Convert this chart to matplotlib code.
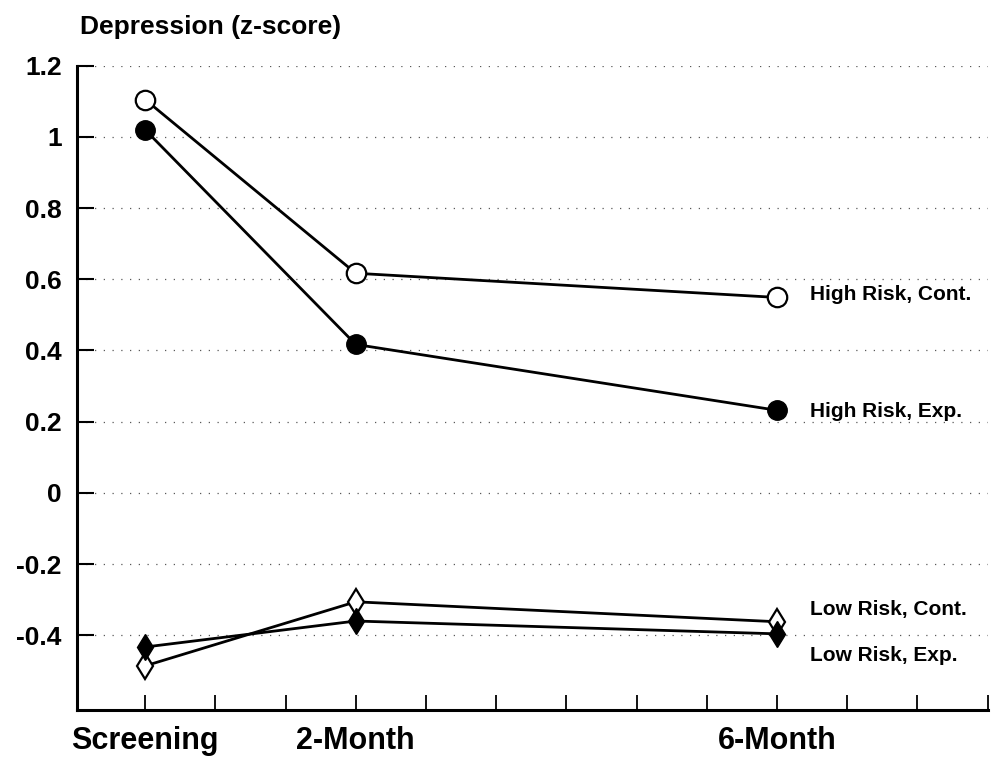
import numpy as np
import matplotlib
matplotlib.use("Agg")
import matplotlib.pyplot as plt

plt.rcParams['font.family'] = ['Liberation Sans', 'DejaVu Sans']

# time points (in axis tick units) and their labels
timePos = [0, 3, 9]
timeLabels = ['Screening', '2-Month', '6-Month']

# depression z-scores per group
hiCont = [1.105, 0.617, 0.549]
hiExp = [1.02, 0.417, 0.232]
loCont = [-0.486, -0.306, -0.362]
loExp = [-0.433, -0.360, -0.396]

groupNames = ['High Risk, Cont.', 'High Risk, Exp.', 'Low Risk, Cont.', 'Low Risk, Exp.']
labelY = [0.558, 0.228, -0.328, -0.458]

yTicks = [1.2, 1, 0.8, 0.6, 0.4, 0.2, 0, -0.2, -0.4]

#%% figure
fig = plt.figure(figsize=(9.94, 7.58), dpi=100)
ax = fig.add_axes([0.0775, 0.0633, 0.916, 0.850])

# dotted gridlines
for yv in yTicks:
    ax.axhline(yv, color='0.35', lw=0.9, ls=(0, (1, 6)), zorder=0)

lw = 2.0
ax.plot(timePos, hiCont, color='k', lw=lw, marker='o', ms=14, mfc='white', mec='k', mew=1.6, zorder=3)
ax.plot(timePos, hiExp, color='k', lw=lw, marker='o', ms=14, mfc='k', mec='k', zorder=3)
ax.plot(timePos, loCont, color='k', lw=lw, marker='d', ms=13, mfc='white', mec='k', mew=1.6, zorder=3)
ax.plot(timePos, loExp, color='k', lw=lw, marker='d', ms=13, mfc='k', mec='k', zorder=3)

for name, yv in zip(groupNames, labelY):
    ax.text(9.47, yv, name, fontsize=15, fontweight='bold', va='center', ha='left')

ax.set_xlim(-0.97, 12.0)
ax.set_ylim(-0.61, 1.2)

ax.set_yticks(yTicks)
ax.set_yticklabels(['%g' % v for v in yTicks], fontsize=19, fontweight='bold')
ax.tick_params(axis='y', direction='in', length=12, width=1.5, pad=11)

ax.set_xticks(range(0, 13))
ax.set_xticklabels([''] * 13)
ax.tick_params(axis='x', direction='in', length=11, width=1.3)

for sp in ['top', 'right']:
    ax.spines[sp].set_visible(False)
for sp in ['left', 'bottom']:
    ax.spines[sp].set_linewidth(2.2)

for pos, lab in zip(timePos, timeLabels):
    ax.text(pos, -0.655, lab, fontsize=22, fontweight='bold', ha='center', va='top',
            transform=ax.transData, clip_on=False)

fig.text(80 / 994, 1 - 27 / 758, 'Depression (z-score)', fontsize=19, fontweight='bold',
         ha='left', va='center')

fig.savefig('out.png', dpi=100)
